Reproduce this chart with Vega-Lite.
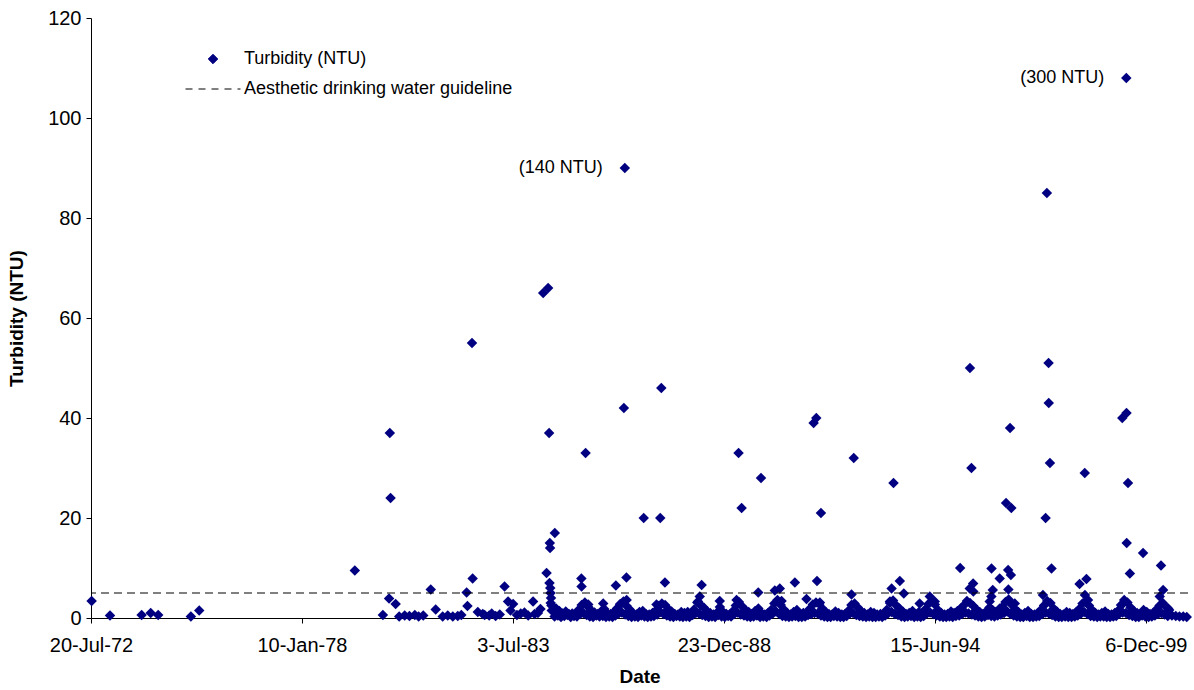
{
  "$schema": "https://vega.github.io/schema/vega-lite/v6.json",
  "width": 1097,
  "height": 600,
  "autosize": "none",
  "padding": {"left": 91, "top": 18, "right": 6, "bottom": 72},
  "background": "white",
  "config": {
    "view": {"stroke": null},
    "font": "Liberation Sans",
    "axis": {"grid": false, "domainColor": "black", "tickColor": "black", "labelColor": "black", "titleColor": "black", "labelFont": "Liberation Sans", "titleFont": "Liberation Sans", "labelFontSize": 20, "titleFontSize": 19, "titleFontWeight": "bold", "tickSize": 5}
  },
  "datasets": {
    "turb": [
      {"date":"1972-07-26","turbidity":3.4},{"date":"1973-01-16","turbidity":0.5},{"date":"1973-11-12","turbidity":0.6},{"date":"1974-02-06","turbidity":1.0},{"date":"1974-04-18","turbidity":0.6},{"date":"1975-02-22","turbidity":0.3},{"date":"1975-05-12","turbidity":1.5},{"date":"1979-05-26","turbidity":9.5},
      {"date":"1980-02-16","turbidity":0.6},{"date":"1980-04-15","turbidity":3.9},{"date":"1980-04-22","turbidity":37},{"date":"1980-04-29","turbidity":24},{"date":"1980-06-16","turbidity":2.8},{"date":"1980-07-20","turbidity":0.3},{"date":"1980-09-10","turbidity":0.5},{"date":"1980-10-25","turbidity":0.4},{"date":"1980-12-15","turbidity":0.6},{"date":"1981-01-20","turbidity":0.3},{"date":"1981-03-05","turbidity":0.5},{"date":"1981-05-15","turbidity":5.7},{"date":"1981-07-01","turbidity":1.7},{"date":"1981-09-05","turbidity":0.3},{"date":"1981-10-23","turbidity":0.5},{"date":"1981-12-10","turbidity":0.3},{"date":"1982-01-26","turbidity":0.4},{"date":"1982-03-01","turbidity":0.6},{"date":"1982-04-20","turbidity":5.1},{"date":"1982-04-28","turbidity":2.4},{"date":"1982-06-10","turbidity":55},{"date":"1982-06-16","turbidity":7.9},{"date":"1982-08-04","turbidity":1.2},{"date":"1982-09-20","turbidity":0.8},{"date":"1982-10-08","turbidity":0.6},{"date":"1982-11-20","turbidity":0.5},{"date":"1982-12-14","turbidity":0.9},{"date":"1983-01-20","turbidity":0.4},{"date":"1983-02-28","turbidity":0.7},{"date":"1983-04-15","turbidity":6.3},{"date":"1983-05-18","turbidity":3.3},{"date":"1983-06-10","turbidity":1.5},{"date":"1983-07-05","turbidity":2.8},{"date":"1983-08-10","turbidity":0.6},{"date":"1983-09-15","turbidity":0.9},{"date":"1983-10-20","turbidity":1.1},{"date":"1983-11-25","turbidity":0.5},{"date":"1984-01-10","turbidity":3.3},{"date":"1984-01-25","turbidity":0.8},{"date":"1984-02-25","turbidity":1.0},{"date":"1984-03-20","turbidity":1.8},
      {"date":"1984-04-15","turbidity":65},{"date":"1984-06-01","turbidity":66},{"date":"1984-05-17","turbidity":9},{"date":"1984-06-10","turbidity":37},{"date":"1984-06-17","turbidity":15},{"date":"1984-06-19","turbidity":14},{"date":"1984-06-14","turbidity":7},{"date":"1984-06-21","turbidity":6},{"date":"1984-06-24","turbidity":5},{"date":"1984-06-28","turbidity":4},{"date":"1984-06-25","turbidity":3},{"date":"1984-07-02","turbidity":2.5},{"date":"1984-07-05","turbidity":1.5},{"date":"1984-08-03","turbidity":17},
      {"date":"1985-04-12","turbidity":7.9},{"date":"1985-04-14","turbidity":6.3},{"date":"1985-05-22","turbidity":33},{"date":"1985-06-16","turbidity":2.7},{"date":"1985-11-05","turbidity":2.9},{"date":"1986-03-05","turbidity":6.5},{"date":"1986-04-13","turbidity":2.6},{"date":"1986-05-20","turbidity":42},{"date":"1986-05-29","turbidity":90},{"date":"1986-06-13","turbidity":8.1},{"date":"1986-06-15","turbidity":3.6},{"date":"1986-11-24","turbidity":20},{"date":"1987-03-25","turbidity":2.7},{"date":"1987-04-30","turbidity":20},{"date":"1987-05-10","turbidity":46},{"date":"1987-06-13","turbidity":7.1},{"date":"1988-04-22","turbidity":3.3},{"date":"1988-05-08","turbidity":4.3},{"date":"1988-05-26","turbidity":6.6},{"date":"1988-11-14","turbidity":3.4},{"date":"1989-04-22","turbidity":3.6},{"date":"1989-05-11","turbidity":33},{"date":"1989-06-09","turbidity":22},{"date":"1989-11-14","turbidity":5.1},{"date":"1989-12-10","turbidity":28},{"date":"1990-04-20","turbidity":5.5},{"date":"1990-06-06","turbidity":5.9},{"date":"1990-06-23","turbidity":3.4},{"date":"1990-10-27","turbidity":7.1},{"date":"1991-02-14","turbidity":3.8},{"date":"1991-04-23","turbidity":39},{"date":"1991-05-18","turbidity":40},{"date":"1991-05-25","turbidity":7.4},{"date":"1991-06-21","turbidity":3.1},{"date":"1991-07-01","turbidity":21},{"date":"1992-04-16","turbidity":4.7},{"date":"1992-05-07","turbidity":32},{"date":"1993-04-15","turbidity":3.3},{"date":"1993-05-01","turbidity":5.9},{"date":"1993-05-19","turbidity":27},{"date":"1993-07-18","turbidity":7.4},{"date":"1993-08-25","turbidity":4.9},{"date":"1994-01-22","turbidity":2.9},{"date":"1994-04-28","turbidity":4.3},{"date":"1994-06-14","turbidity":3.3},{"date":"1995-02-10","turbidity":10},{"date":"1995-05-12","turbidity":5.9},{"date":"1995-05-14","turbidity":50},{"date":"1995-05-28","turbidity":30},{"date":"1995-06-13","turbidity":6.9},{"date":"1995-06-15","turbidity":5.3},{"date":"1995-11-17","turbidity":3.3},{"date":"1995-12-03","turbidity":4.3},{"date":"1995-12-04","turbidity":9.9},{"date":"1995-12-16","turbidity":5.6},{"date":"1996-02-20","turbidity":7.9},{"date":"1996-02-21","turbidity":1.9},{"date":"1996-04-20","turbidity":23},{"date":"1996-05-10","turbidity":9.6},{"date":"1996-05-12","turbidity":5.7},{"date":"1996-05-28","turbidity":38},{"date":"1996-06-09","turbidity":22},{"date":"1996-06-05","turbidity":8.6},{"date":"1996-07-12","turbidity":2.9},{"date":"1997-04-05","turbidity":4.6},{"date":"1997-04-30","turbidity":20},{"date":"1997-05-12","turbidity":85},{"date":"1997-05-28","turbidity":51},{"date":"1997-05-30","turbidity":43},{"date":"1997-06-10","turbidity":31},{"date":"1997-06-25","turbidity":9.9},{"date":"1998-03-18","turbidity":6.8},{"date":"1998-05-08","turbidity":4.6},{"date":"1998-05-06","turbidity":29},{"date":"1998-05-22","turbidity":7.8},{"date":"1998-06-06","turbidity":3.6},{"date":"1999-04-27","turbidity":40},{"date":"1999-05-05","turbidity":2.9},{"date":"1999-06-04","turbidity":108},{"date":"1999-06-06","turbidity":41},{"date":"1999-06-08","turbidity":15},{"date":"1999-06-20","turbidity":27},{"date":"1999-07-08","turbidity":8.9},{"date":"1999-11-10","turbidity":13},{"date":"2000-04-16","turbidity":4.3},{"date":"2000-04-28","turbidity":10.5},{"date":"2000-05-18","turbidity":5.6},{"date":"2000-07-05","turbidity":1.9},{"date":"2000-08-10","turbidity":0.5},{"date":"2000-09-15","turbidity":0.4},{"date":"2000-10-20","turbidity":0.3},{"date":"2000-11-25","turbidity":0.3},{"date":"2000-12-28","turbidity":0.2},
      {"date":"1984-08-15","turbidity":1.9},{"date":"1984-09-15","turbidity":1.4},{"date":"1984-10-15","turbidity":0.9},{"date":"1984-11-15","turbidity":1.3},{"date":"1984-12-15","turbidity":0.8},
      {"date":"1985-01-15","turbidity":0.9},{"date":"1985-02-15","turbidity":0.7},{"date":"1985-03-15","turbidity":1.6},{"date":"1985-04-15","turbidity":2.6},{"date":"1985-05-15","turbidity":3.1},{"date":"1985-06-15","turbidity":2.2},{"date":"1985-07-15","turbidity":1.5},{"date":"1985-08-15","turbidity":1.1},{"date":"1985-09-15","turbidity":0.8},{"date":"1985-10-15","turbidity":1.3},{"date":"1985-11-15","turbidity":1.8},{"date":"1985-12-15","turbidity":0.9},
      {"date":"1986-01-15","turbidity":0.8},{"date":"1986-02-15","turbidity":1.2},{"date":"1986-03-15","turbidity":1.9},{"date":"1986-04-15","turbidity":2.8},{"date":"1986-05-15","turbidity":3.3},{"date":"1986-06-15","turbidity":2.4},{"date":"1986-07-15","turbidity":1.7},{"date":"1986-08-15","turbidity":0.9},{"date":"1986-09-15","turbidity":0.7},{"date":"1986-10-15","turbidity":1.2},{"date":"1986-11-15","turbidity":1.4},{"date":"1986-12-15","turbidity":0.8},
      {"date":"1987-01-15","turbidity":0.7},{"date":"1987-02-15","turbidity":1.0},{"date":"1987-03-15","turbidity":1.4},{"date":"1987-04-15","turbidity":2.4},{"date":"1987-05-15","turbidity":2.9},{"date":"1987-06-15","turbidity":2.6},{"date":"1987-07-15","turbidity":1.8},{"date":"1987-08-15","turbidity":1.3},{"date":"1987-09-15","turbidity":0.8},{"date":"1987-10-15","turbidity":0.7},{"date":"1987-11-15","turbidity":1.2},{"date":"1987-12-15","turbidity":1.0},
      {"date":"1988-01-15","turbidity":1.2},{"date":"1988-02-15","turbidity":0.8},{"date":"1988-03-15","turbidity":1.7},{"date":"1988-04-15","turbidity":3.1},{"date":"1988-05-15","turbidity":2.6},{"date":"1988-06-15","turbidity":2.1},{"date":"1988-07-15","turbidity":1.4},{"date":"1988-08-15","turbidity":1.0},{"date":"1988-09-15","turbidity":0.7},{"date":"1988-10-15","turbidity":1.0},{"date":"1988-11-15","turbidity":2.2},{"date":"1988-12-15","turbidity":1.2},
      {"date":"1989-01-15","turbidity":0.8},{"date":"1989-02-15","turbidity":0.7},{"date":"1989-03-15","turbidity":1.3},{"date":"1989-04-15","turbidity":2.5},{"date":"1989-05-15","turbidity":3.2},{"date":"1989-06-15","turbidity":2.3},{"date":"1989-07-15","turbidity":1.6},{"date":"1989-08-15","turbidity":1.2},{"date":"1989-09-15","turbidity":0.8},{"date":"1989-10-15","turbidity":1.4},{"date":"1989-11-15","turbidity":1.9},{"date":"1989-12-15","turbidity":1.0},
      {"date":"1990-01-15","turbidity":0.7},{"date":"1990-02-15","turbidity":1.0},{"date":"1990-03-15","turbidity":1.6},{"date":"1990-04-15","turbidity":2.9},{"date":"1990-05-15","turbidity":3.6},{"date":"1990-06-15","turbidity":2.6},{"date":"1990-07-15","turbidity":1.7},{"date":"1990-08-15","turbidity":1.0},{"date":"1990-09-15","turbidity":0.7},{"date":"1990-10-15","turbidity":1.2},{"date":"1990-11-15","turbidity":1.6},{"date":"1990-12-15","turbidity":0.8},
      {"date":"1991-01-15","turbidity":1.0},{"date":"1991-02-15","turbidity":0.8},{"date":"1991-03-15","turbidity":1.8},{"date":"1991-04-15","turbidity":2.7},{"date":"1991-05-15","turbidity":3.1},{"date":"1991-06-15","turbidity":2.8},{"date":"1991-07-15","turbidity":1.9},{"date":"1991-08-15","turbidity":1.2},{"date":"1991-09-15","turbidity":0.8},{"date":"1991-10-15","turbidity":0.7},{"date":"1991-11-15","turbidity":1.3},{"date":"1991-12-15","turbidity":1.0},
      {"date":"1992-01-15","turbidity":0.7},{"date":"1992-02-15","turbidity":0.8},{"date":"1992-03-15","turbidity":1.4},{"date":"1992-04-15","turbidity":2.6},{"date":"1992-05-15","turbidity":2.9},{"date":"1992-06-15","turbidity":2.1},{"date":"1992-07-15","turbidity":1.4},{"date":"1992-08-15","turbidity":1.0},{"date":"1992-09-15","turbidity":0.7},{"date":"1992-10-15","turbidity":1.2},{"date":"1992-11-15","turbidity":1.0},{"date":"1992-12-15","turbidity":0.7},
      {"date":"1993-01-15","turbidity":0.8},{"date":"1993-02-15","turbidity":0.7},{"date":"1993-03-15","turbidity":1.6},{"date":"1993-04-15","turbidity":3.0},{"date":"1993-05-15","turbidity":3.5},{"date":"1993-06-15","turbidity":2.5},{"date":"1993-07-15","turbidity":1.9},{"date":"1993-08-15","turbidity":1.3},{"date":"1993-09-15","turbidity":0.8},{"date":"1993-10-15","turbidity":1.0},{"date":"1993-11-15","turbidity":1.4},{"date":"1993-12-15","turbidity":0.8},
      {"date":"1994-01-15","turbidity":1.2},{"date":"1994-02-15","turbidity":1.0},{"date":"1994-03-15","turbidity":1.7},{"date":"1994-04-15","turbidity":2.8},{"date":"1994-05-15","turbidity":3.3},{"date":"1994-06-15","turbidity":2.7},{"date":"1994-07-15","turbidity":1.6},{"date":"1994-08-15","turbidity":1.0},{"date":"1994-09-15","turbidity":0.7},{"date":"1994-10-15","turbidity":0.8},{"date":"1994-11-15","turbidity":1.3},{"date":"1994-12-15","turbidity":1.0},
      {"date":"1995-01-15","turbidity":1.4},{"date":"1995-02-15","turbidity":1.9},{"date":"1995-03-15","turbidity":2.5},{"date":"1995-04-15","turbidity":3.4},{"date":"1995-05-15","turbidity":3.0},{"date":"1995-06-15","turbidity":2.4},{"date":"1995-07-15","turbidity":1.7},{"date":"1995-08-15","turbidity":1.2},{"date":"1995-09-15","turbidity":0.8},{"date":"1995-10-15","turbidity":1.3},{"date":"1995-11-15","turbidity":2.1},{"date":"1995-12-15","turbidity":1.6},
      {"date":"1996-01-15","turbidity":1.2},{"date":"1996-02-15","turbidity":1.7},{"date":"1996-03-15","turbidity":2.2},{"date":"1996-04-15","turbidity":3.2},{"date":"1996-05-15","turbidity":3.7},{"date":"1996-06-15","turbidity":2.6},{"date":"1996-07-15","turbidity":1.8},{"date":"1996-08-15","turbidity":1.2},{"date":"1996-09-15","turbidity":0.7},{"date":"1996-10-15","turbidity":1.0},{"date":"1996-11-15","turbidity":1.4},{"date":"1996-12-15","turbidity":0.8},
      {"date":"1997-01-15","turbidity":0.7},{"date":"1997-02-15","turbidity":1.0},{"date":"1997-03-15","turbidity":1.6},{"date":"1997-04-15","turbidity":2.5},{"date":"1997-05-15","turbidity":3.4},{"date":"1997-06-15","turbidity":3.0},{"date":"1997-07-15","turbidity":1.9},{"date":"1997-08-15","turbidity":1.3},{"date":"1997-09-15","turbidity":0.8},{"date":"1997-10-15","turbidity":0.7},{"date":"1997-11-15","turbidity":1.2},{"date":"1997-12-15","turbidity":1.0},
      {"date":"1998-01-15","turbidity":0.8},{"date":"1998-02-15","turbidity":1.2},{"date":"1998-03-15","turbidity":1.8},{"date":"1998-04-15","turbidity":2.9},{"date":"1998-05-15","turbidity":3.3},{"date":"1998-06-15","turbidity":2.5},{"date":"1998-07-15","turbidity":1.6},{"date":"1998-08-15","turbidity":1.0},{"date":"1998-09-15","turbidity":0.7},{"date":"1998-10-15","turbidity":1.0},{"date":"1998-11-15","turbidity":1.3},{"date":"1998-12-15","turbidity":0.8},
      {"date":"1999-01-15","turbidity":0.7},{"date":"1999-02-15","turbidity":1.0},{"date":"1999-03-15","turbidity":1.4},{"date":"1999-04-15","turbidity":2.6},{"date":"1999-05-15","turbidity":3.6},{"date":"1999-06-15","turbidity":3.1},{"date":"1999-07-15","turbidity":2.1},{"date":"1999-08-15","turbidity":1.4},{"date":"1999-09-15","turbidity":1.0},{"date":"1999-10-15","turbidity":0.8},{"date":"1999-11-15","turbidity":1.6},{"date":"1999-12-15","turbidity":1.2},
      {"date":"2000-01-15","turbidity":0.8},{"date":"2000-02-15","turbidity":1.0},{"date":"2000-03-15","turbidity":1.7},{"date":"2000-04-15","turbidity":2.5},{"date":"2000-05-15","turbidity":3.0},{"date":"2000-06-15","turbidity":2.2},{"date":"2000-07-15","turbidity":1.6},
      {"date":"1984-08-01","turbidity":0.3},{"date":"1984-09-01","turbidity":0.5},{"date":"1984-10-01","turbidity":0.2},{"date":"1984-11-01","turbidity":0.4},{"date":"1984-12-01","turbidity":0.6},
      {"date":"1985-01-01","turbidity":0.2},{"date":"1985-02-01","turbidity":0.4},{"date":"1985-03-01","turbidity":0.3},{"date":"1985-04-01","turbidity":0.8},{"date":"1985-05-01","turbidity":1.0},{"date":"1985-06-01","turbidity":0.6},{"date":"1985-07-01","turbidity":0.3},{"date":"1985-08-01","turbidity":0.2},{"date":"1985-09-01","turbidity":0.5},{"date":"1985-10-01","turbidity":0.3},{"date":"1985-11-01","turbidity":0.4},{"date":"1985-12-01","turbidity":0.2},
      {"date":"1986-01-01","turbidity":0.3},{"date":"1986-02-01","turbidity":0.2},{"date":"1986-03-01","turbidity":0.5},{"date":"1986-04-01","turbidity":0.9},{"date":"1986-05-01","turbidity":1.1},{"date":"1986-06-01","turbidity":0.7},{"date":"1986-07-01","turbidity":0.4},{"date":"1986-08-01","turbidity":0.2},{"date":"1986-09-01","turbidity":0.3},{"date":"1986-10-01","turbidity":0.2},{"date":"1986-11-01","turbidity":0.5},{"date":"1986-12-01","turbidity":0.3},
      {"date":"1987-01-01","turbidity":0.2},{"date":"1987-02-01","turbidity":0.3},{"date":"1987-03-01","turbidity":0.4},{"date":"1987-04-01","turbidity":0.7},{"date":"1987-05-01","turbidity":1.2},{"date":"1987-06-01","turbidity":0.8},{"date":"1987-07-01","turbidity":0.5},{"date":"1987-08-01","turbidity":0.3},{"date":"1987-09-01","turbidity":0.2},{"date":"1987-10-01","turbidity":0.4},{"date":"1987-11-01","turbidity":0.3},{"date":"1987-12-01","turbidity":0.2},
      {"date":"1988-01-01","turbidity":0.3},{"date":"1988-02-01","turbidity":0.2},{"date":"1988-03-01","turbidity":0.6},{"date":"1988-04-01","turbidity":1.0},{"date":"1988-05-01","turbidity":0.9},{"date":"1988-06-01","turbidity":0.6},{"date":"1988-07-01","turbidity":0.4},{"date":"1988-08-01","turbidity":0.2},{"date":"1988-09-01","turbidity":0.3},{"date":"1988-10-01","turbidity":0.2},{"date":"1988-11-01","turbidity":0.6},{"date":"1988-12-01","turbidity":0.3},
      {"date":"1989-01-01","turbidity":0.2},{"date":"1989-02-01","turbidity":0.4},{"date":"1989-03-01","turbidity":0.3},{"date":"1989-04-01","turbidity":0.8},{"date":"1989-05-01","turbidity":1.1},{"date":"1989-06-01","turbidity":0.7},{"date":"1989-07-01","turbidity":0.5},{"date":"1989-08-01","turbidity":0.3},{"date":"1989-09-01","turbidity":0.2},{"date":"1989-10-01","turbidity":0.3},{"date":"1989-11-01","turbidity":0.5},{"date":"1989-12-01","turbidity":0.2},
      {"date":"1990-01-01","turbidity":0.3},{"date":"1990-02-01","turbidity":0.2},{"date":"1990-03-01","turbidity":0.5},{"date":"1990-04-01","turbidity":0.9},{"date":"1990-05-01","turbidity":1.3},{"date":"1990-06-01","turbidity":0.8},{"date":"1990-07-01","turbidity":0.4},{"date":"1990-08-01","turbidity":0.3},{"date":"1990-09-01","turbidity":0.2},{"date":"1990-10-01","turbidity":0.3},{"date":"1990-11-01","turbidity":0.4},{"date":"1990-12-01","turbidity":0.2},
      {"date":"1991-01-01","turbidity":0.2},{"date":"1991-02-01","turbidity":0.3},{"date":"1991-03-01","turbidity":0.6},{"date":"1991-04-01","turbidity":0.8},{"date":"1991-05-01","turbidity":1.0},{"date":"1991-06-01","turbidity":0.9},{"date":"1991-07-01","turbidity":0.5},{"date":"1991-08-01","turbidity":0.3},{"date":"1991-09-01","turbidity":0.2},{"date":"1991-10-01","turbidity":0.2},{"date":"1991-11-01","turbidity":0.4},{"date":"1991-12-01","turbidity":0.3},
      {"date":"1992-01-01","turbidity":0.2},{"date":"1992-02-01","turbidity":0.2},{"date":"1992-03-01","turbidity":0.4},{"date":"1992-04-01","turbidity":0.9},{"date":"1992-05-01","turbidity":1.0},{"date":"1992-06-01","turbidity":0.6},{"date":"1992-07-01","turbidity":0.4},{"date":"1992-08-01","turbidity":0.3},{"date":"1992-09-01","turbidity":0.2},{"date":"1992-10-01","turbidity":0.3},{"date":"1992-11-01","turbidity":0.2},{"date":"1992-12-01","turbidity":0.2},
      {"date":"1993-01-01","turbidity":0.3},{"date":"1993-02-01","turbidity":0.2},{"date":"1993-03-01","turbidity":0.5},{"date":"1993-04-01","turbidity":1.0},{"date":"1993-05-01","turbidity":1.2},{"date":"1993-06-01","turbidity":0.8},{"date":"1993-07-01","turbidity":0.6},{"date":"1993-08-01","turbidity":0.3},{"date":"1993-09-01","turbidity":0.2},{"date":"1993-10-01","turbidity":0.3},{"date":"1993-11-01","turbidity":0.4},{"date":"1993-12-01","turbidity":0.2},
      {"date":"1994-01-01","turbidity":0.3},{"date":"1994-02-01","turbidity":0.2},{"date":"1994-03-01","turbidity":0.4},{"date":"1994-04-01","turbidity":0.9},{"date":"1994-05-01","turbidity":1.1},{"date":"1994-06-01","turbidity":0.8},{"date":"1994-07-01","turbidity":0.5},{"date":"1994-08-01","turbidity":0.3},{"date":"1994-09-01","turbidity":0.2},{"date":"1994-10-01","turbidity":0.2},{"date":"1994-11-01","turbidity":0.3},{"date":"1994-12-01","turbidity":0.2},
      {"date":"1995-01-01","turbidity":0.4},{"date":"1995-02-01","turbidity":0.5},{"date":"1995-03-01","turbidity":0.8},{"date":"1995-04-01","turbidity":1.1},{"date":"1995-05-01","turbidity":0.9},{"date":"1995-06-01","turbidity":0.7},{"date":"1995-07-01","turbidity":0.5},{"date":"1995-08-01","turbidity":0.3},{"date":"1995-09-01","turbidity":0.2},{"date":"1995-10-01","turbidity":0.3},{"date":"1995-11-01","turbidity":0.6},{"date":"1995-12-01","turbidity":0.4},
      {"date":"1996-01-01","turbidity":0.3},{"date":"1996-02-01","turbidity":0.5},{"date":"1996-03-01","turbidity":0.7},{"date":"1996-04-01","turbidity":1.0},{"date":"1996-05-01","turbidity":1.3},{"date":"1996-06-01","turbidity":0.8},{"date":"1996-07-01","turbidity":0.5},{"date":"1996-08-01","turbidity":0.3},{"date":"1996-09-01","turbidity":0.2},{"date":"1996-10-01","turbidity":0.2},{"date":"1996-11-01","turbidity":0.4},{"date":"1996-12-01","turbidity":0.2},
      {"date":"1997-01-01","turbidity":0.2},{"date":"1997-02-01","turbidity":0.3},{"date":"1997-03-01","turbidity":0.4},{"date":"1997-04-01","turbidity":0.8},{"date":"1997-05-01","turbidity":1.1},{"date":"1997-06-01","turbidity":0.9},{"date":"1997-07-01","turbidity":0.6},{"date":"1997-08-01","turbidity":0.3},{"date":"1997-09-01","turbidity":0.2},{"date":"1997-10-01","turbidity":0.2},{"date":"1997-11-01","turbidity":0.3},{"date":"1997-12-01","turbidity":0.2},
      {"date":"1998-01-01","turbidity":0.2},{"date":"1998-02-01","turbidity":0.3},{"date":"1998-03-01","turbidity":0.5},{"date":"1998-04-01","turbidity":0.9},{"date":"1998-05-01","turbidity":1.2},{"date":"1998-06-01","turbidity":0.8},{"date":"1998-07-01","turbidity":0.4},{"date":"1998-08-01","turbidity":0.3},{"date":"1998-09-01","turbidity":0.2},{"date":"1998-10-01","turbidity":0.3},{"date":"1998-11-01","turbidity":0.3},{"date":"1998-12-01","turbidity":0.2},
      {"date":"1999-01-01","turbidity":0.2},{"date":"1999-02-01","turbidity":0.3},{"date":"1999-03-01","turbidity":0.4},{"date":"1999-04-01","turbidity":0.9},{"date":"1999-05-01","turbidity":1.1},{"date":"1999-06-01","turbidity":1.0},{"date":"1999-07-01","turbidity":0.6},{"date":"1999-08-01","turbidity":0.4},{"date":"1999-09-01","turbidity":0.2},{"date":"1999-10-01","turbidity":0.2},{"date":"1999-11-01","turbidity":0.5},{"date":"1999-12-01","turbidity":0.3},
      {"date":"2000-01-01","turbidity":0.2},{"date":"2000-02-01","turbidity":0.3},{"date":"2000-03-01","turbidity":0.5},{"date":"2000-04-01","turbidity":0.8},{"date":"2000-05-01","turbidity":1.0},{"date":"2000-06-01","turbidity":0.7},{"date":"2000-07-01","turbidity":0.4}
    ]
  },
  "layer": [
    {
      "data": {"name": "turb"},
      "mark": {"type": "point", "shape": "diamond", "filled": true, "size": 110, "opacity": 1},
      "encoding": {
        "x": {
          "field": "date", "type": "temporal",
          "scale": {"type": "utc", "domain": [{"year": 1972, "month": 7, "date": 20, "utc": true}, {"year": 2001, "month": 1, "date": 9, "utc": true}]},
          "axis": {
            "title": "Date",
            "values": [{"year": 1972, "month": 7, "date": 20, "utc": true}, {"year": 1978, "month": 1, "date": 10, "utc": true}, {"year": 1983, "month": 7, "date": 3, "utc": true}, {"year": 1988, "month": 12, "date": 23, "utc": true}, {"year": 1994, "month": 6, "date": 15, "utc": true}, {"year": 1999, "month": 12, "date": 6, "utc": true}],
            "format": "%-d-%b-%y",
            "labelFlush": false, "labelOverlap": false, "labelPadding": 12, "titlePadding": 12
          }
        },
        "y": {
          "field": "turbidity", "type": "quantitative",
          "scale": {"domain": [0, 120], "nice": false},
          "axis": {"title": "Turbidity (NTU)", "values": [0, 20, 40, 60, 80, 100, 120], "labelPadding": 5, "titlePadding": 21}
        },
        "color": {
          "datum": "Turbidity (NTU)", "type": "nominal",
          "scale": {"domain": ["Turbidity (NTU)", "Aesthetic drinking water guideline"], "range": ["#000080", "#000000"]},
          "legend": {
            "orient": "none", "legendX": 113, "legendY": 32, "title": null, "padding": 0,
            "labelFont": "Liberation Sans", "labelFontSize": 18, "labelColor": "black", "labelLimit": 500,
            "symbolSize": 80, "labelOffset": 22, "rowPadding": 12,
            "encoding": {
              "symbols": {
                "shape": {"value": {"expr": "datum.value === 'Turbidity (NTU)' ? 'diamond' : 'M-6,0H6'"}},
                "size": {"value": {"expr": "datum.value === 'Turbidity (NTU)' ? 90 : 84"}},
                "fill": {"value": {"expr": "datum.value === 'Turbidity (NTU)' ? '#000080' : 'transparent'"}},
                "stroke": {"value": {"expr": "datum.value === 'Turbidity (NTU)' ? '#000080' : '#444444'"}},
                "strokeDash": {"value": {"expr": "datum.value === 'Turbidity (NTU)' ? [] : [7, 6]"}},
                "strokeWidth": {"value": 1},
                "opacity": {"value": 1}
              }
            }
          }
        }
      }
    },
    {
      "data": {"values": [{"guideline": 5}]},
      "mark": {"type": "rule", "strokeDash": [8, 5], "strokeWidth": 1},
      "encoding": {
        "y": {"field": "guideline", "type": "quantitative"},
        "color": {"datum": "Aesthetic drinking water guideline", "type": "nominal"}
      }
    },
    {
      "data": {"values": [{"date": "1986-05-29", "turbidity": 90, "label": "(140 NTU)"}, {"date": "1999-06-04", "turbidity": 108, "label": "(300 NTU)"}]},
      "mark": {"type": "text", "align": "right", "baseline": "middle", "dx": -22, "fontSize": 18, "font": "Liberation Sans", "color": "black"},
      "encoding": {
        "x": {"field": "date", "type": "temporal"},
        "y": {"field": "turbidity", "type": "quantitative"},
        "text": {"field": "label"}
      }
    }
  ]
}
